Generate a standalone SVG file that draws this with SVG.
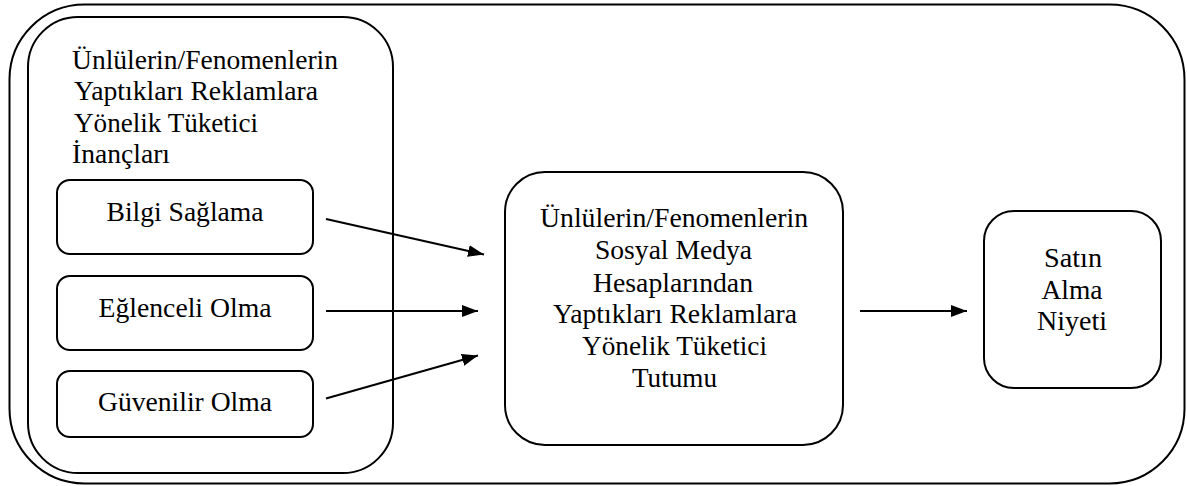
<svg xmlns="http://www.w3.org/2000/svg" width="1187" height="486" viewBox="0 0 1187 486">
<style>
.box{fill:none;stroke:#000;stroke-width:2}
.t{font-family:'Liberation Serif','Times New Roman',serif;font-size:27.5px;fill:#000}
.c{text-anchor:middle}
.conn{stroke:#000;stroke-width:2;fill:none}
</style>
<defs>
<marker id="ah" markerUnits="userSpaceOnUse" markerWidth="18" markerHeight="14" refX="16" refY="6" orient="auto">
<path d="M0,0 L16,6 L0,12 z" fill="#000"/>
</marker>
</defs>
<rect width="1187" height="486" fill="#fff"/>
<g id="outer">
<rect class="box" x="9.5" y="4.5" width="1175" height="479" rx="75" ry="75"/>
</g>
<g id="beliefs">
<rect class="box" x="28" y="17" width="365" height="456" rx="50" ry="50"/>
<text class="t" x="72" y="68.5" textLength="266" lengthAdjust="spacingAndGlyphs">Ünlülerin/Fenomenlerin</text>
<text class="t" x="74" y="100" textLength="244" lengthAdjust="spacingAndGlyphs">Yaptıkları Reklamlara</text>
<text class="t" x="74" y="131.5" textLength="184" lengthAdjust="spacingAndGlyphs">Yönelik Tüketici</text>
<text class="t" x="72" y="163" textLength="98" lengthAdjust="spacingAndGlyphs">İnançları</text>
</g>
<g id="bilgi">
<rect class="box" x="57" y="180" width="256" height="74" rx="13" ry="13"/>
<text class="t c" x="185" y="221" textLength="157" lengthAdjust="spacingAndGlyphs">Bilgi Sağlama</text>
</g>
<g id="eglenceli">
<rect class="box" x="57" y="276" width="256" height="74" rx="13" ry="13"/>
<text class="t c" x="185" y="316.5" textLength="173" lengthAdjust="spacingAndGlyphs">Eğlenceli Olma</text>
</g>
<g id="guvenilir">
<rect class="box" x="57" y="371" width="256" height="66" rx="13" ry="13"/>
<text class="t c" x="185" y="410.5" textLength="174" lengthAdjust="spacingAndGlyphs">Güvenilir Olma</text>
</g>
<g id="tutum">
<rect class="box" x="505" y="172" width="338" height="273" rx="40" ry="40"/>
<text class="t c" x="674" y="226.5" textLength="268" lengthAdjust="spacingAndGlyphs">Ünlülerin/Fenomenlerin</text>
<text class="t c" x="673.5" y="259" textLength="157" lengthAdjust="spacingAndGlyphs">Sosyal Medya</text>
<text class="t c" x="673" y="291.5" textLength="160" lengthAdjust="spacingAndGlyphs">Hesaplarından</text>
<text class="t c" x="675" y="323" textLength="244" lengthAdjust="spacingAndGlyphs">Yaptıkları Reklamlara</text>
<text class="t c" x="674.5" y="355" textLength="185" lengthAdjust="spacingAndGlyphs">Yönelik Tüketici</text>
<text class="t c" x="674.5" y="386.5" textLength="85" lengthAdjust="spacingAndGlyphs">Tutumu</text>
</g>
<g id="niyet">
<rect class="box" x="984" y="211" width="177" height="177" rx="30" ry="30"/>
<text class="t c" x="1073" y="266.5" textLength="58" lengthAdjust="spacingAndGlyphs">Satın</text>
<text class="t c" x="1072" y="298.5" textLength="61" lengthAdjust="spacingAndGlyphs">Alma</text>
<text class="t c" x="1072" y="330" textLength="70" lengthAdjust="spacingAndGlyphs">Niyeti</text>
</g>
<g id="connectors">
<line class="conn" x1="326" y1="219" x2="484" y2="254.5" marker-end="url(#ah)"/>
<line class="conn" x1="326" y1="311" x2="478" y2="311" marker-end="url(#ah)"/>
<line class="conn" x1="326" y1="398.5" x2="478" y2="355.5" marker-end="url(#ah)"/>
<line class="conn" x1="860" y1="311" x2="967" y2="311" marker-end="url(#ah)"/>
</g>
</svg>
